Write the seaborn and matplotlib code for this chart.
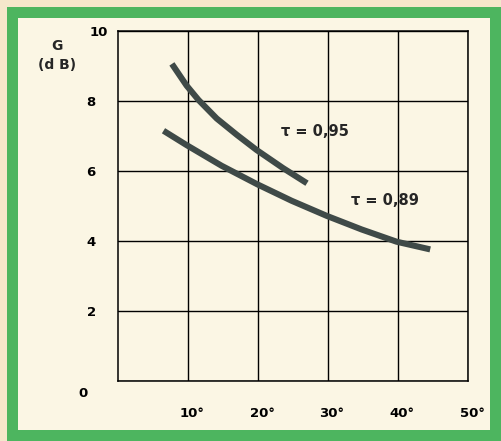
import matplotlib
matplotlib.use("Agg")
import matplotlib.pyplot as plt
from matplotlib.patches import Rectangle
from matplotlib.transforms import ScaledTranslation
import seaborn as sns
import pandas as pd

# ---- data ----
tau095_angle = [7.7, 9.8, 11.5, 14.1, 17.0, 19.8, 23.6, 27.0]
tau095_gain = [9.06, 8.44, 8.03, 7.5, 7.03, 6.6, 6.08, 5.65]
tau089_angle = [6.5, 9.8, 14.8, 19.9, 24.8, 29.8, 34.8, 39.8, 44.6]
tau089_gain = [7.15, 6.74, 6.15, 5.62, 5.15, 4.72, 4.33, 3.98, 3.76]
series_names = ["τ = 0,95", "τ = 0,89"]
x_ticks = [10, 20, 30, 40, 50]
x_labels = ["10°", "20°", "30°", "40°", "50°"]
y_ticks = [0, 2, 4, 6, 8, 10]
y_labels = ["0", "2", "4", "6", "8", "10"]
y_title = "G\n(d B)"

df = pd.concat([
    pd.DataFrame({"angle": tau095_angle, "gain": tau095_gain, "tau": series_names[0]}),
    pd.DataFrame({"angle": tau089_angle, "gain": tau089_gain, "tau": series_names[1]}),
], ignore_index=True)

sns.set_style("white")
plt.rcParams["font.family"] = ["DejaVu Sans"]

W, H = 501, 441
fig = plt.figure(figsize=(W / 100, H / 100), dpi=100)
fig.patch.set_facecolor("#f5e7cb")

# green frame and cream panel (figure fraction coordinates)
fig.add_artist(Rectangle((7 / W, 0), 1, (H - 7) / H, transform=fig.transFigure,
                         facecolor="#4db55f", edgecolor="none", zorder=0))
fig.add_artist(Rectangle((18 / W, 11 / H), (490 - 18) / W, (H - 18 - 11) / H,
                         transform=fig.transFigure, facecolor="#fbf6e4",
                         edgecolor="none", zorder=0))

ax = fig.add_axes([118 / W, 60 / H, 350 / W, 350 / H])
ax.set_facecolor("none")

line_col = "#3f4a48"
sns.lineplot(data=df, x="angle", y="gain", hue="tau", sort=False,
             palette={series_names[0]: line_col, series_names[1]: line_col},
             linewidth=4.4, legend=False, ax=ax, estimator=None)
for ln in ax.get_lines():
    ln.set_solid_capstyle("butt")
    ln.set_solid_joinstyle("round")
    ln.set_zorder(3)

ax.set_xlim(0, 50)
ax.set_ylim(0, 10)
ax.set_xticks(x_ticks)
ax.set_xticklabels(x_labels)
ax.set_yticks(y_ticks)
ax.set_yticklabels(y_labels)
ax.grid(True, color="black", linewidth=1.0)
ax.set_axisbelow(True)
for s in ax.spines.values():
    s.set_color("black")
    s.set_linewidth(1.1)
    s.set_visible(True)

ax.tick_params(axis="both", length=0, labelsize=9.5, colors="black")
ax.tick_params(axis="x", pad=19)
ax.tick_params(axis="y", pad=16)
for lab in ax.get_xticklabels() + ax.get_yticklabels():
    lab.set_fontweight("bold")

# individual offsets of y tick labels, as in the reference
ylabs = ax.get_yticklabels()
ylabs[0].set_transform(ylabs[0].get_transform() +
                       ScaledTranslation(-0.08, -0.11, fig.dpi_scale_trans))
ylabs[-1].set_transform(ylabs[-1].get_transform() +
                        ScaledTranslation(0.12, 0.0, fig.dpi_scale_trans))
xlabs = ax.get_xticklabels()
for lab in xlabs:
    lab.set_transform(lab.get_transform() +
                      ScaledTranslation(0.04, 0.0, fig.dpi_scale_trans))

ax.set_xlabel("")
ax.set_ylabel(y_title, rotation=0, fontsize=10, fontweight="bold",
              ha="center", va="center", linespacing=1.45)
ax.yaxis.set_label_coords(-0.174, 0.93)

ax.text(28.1, 7.14, series_names[0], fontsize=10.5, fontweight="bold",
        ha="center", va="center", zorder=4)
ax.text(38.1, 5.17, series_names[1], fontsize=10.5, fontweight="bold",
        ha="center", va="center", zorder=4)

fig.savefig("out.png", dpi=100, facecolor=fig.get_facecolor())
